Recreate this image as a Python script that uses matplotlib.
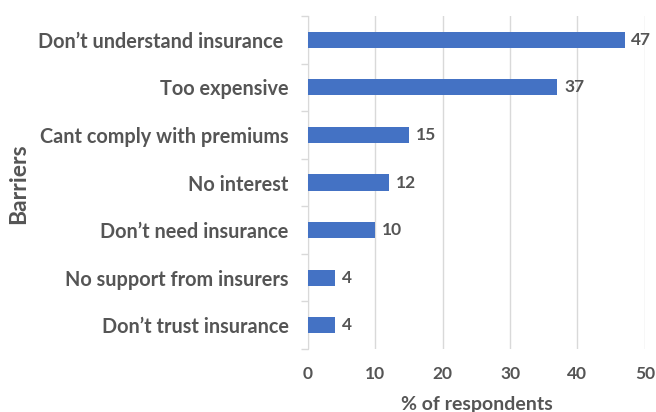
import matplotlib.pyplot as plt
import numpy as np

barriers = ['Don’t understand insurance ', 'Too expensive', 'Cant comply with premiums',
            'No interest', 'Don’t need insurance', 'No support from insurers',
            'Don’t trust insurance']
percent = [47, 37, 15, 12, 10, 4, 4]
x_ticks = [0, 10, 20, 30, 40, 50]

plt.rcParams['font.family'] = ['Lato', 'DejaVu Sans']
plt.rcParams['font.weight'] = 'bold'
text_color = '#555555'
bar_color = '#4472C4'

fig = plt.figure(figsize=(6.56, 4.12), dpi=100)
ax = fig.add_axes([0.4695, 0.153, 0.5135, 0.808])

y = np.arange(len(barriers))
ax.barh(y, percent, height=0.34, color=bar_color, zorder=3)
for yi, v in zip(y, percent):
    ax.text(v + 1.0, yi, str(v), va='center', ha='left', fontsize=12.5,
            color=text_color, fontweight='bold')

ax.set_ylim(len(barriers) - 0.5, -0.5)
ax.set_xlim(0, 50)
ax.set_xticks(x_ticks)
ax.set_yticks(y)
ax.set_yticklabels(barriers)
ax.set_yticks(np.arange(len(barriers) + 1) - 0.5, minor=True)
ax.tick_params(axis='y', which='major', length=0, pad=14, labelsize=14.3, labelcolor=text_color)
ax.tick_params(axis='y', which='minor', length=5, color='#d9d9d9', width=1)
ax.tick_params(axis='x', length=0, pad=12, labelsize=12.5, labelcolor=text_color)

ax.grid(axis='x', color='#d9d9d9', linewidth=1, zorder=0)
for s in ['top', 'right', 'bottom']:
    ax.spines[s].set_visible(False)
ax.spines['left'].set_color('#d9d9d9')

ax.set_xlabel('% of respondents', fontsize=14, color=text_color, fontweight='bold', labelpad=10)
fig.text(0.028, 0.553, 'Barriers', rotation=90, va='center', ha='center',
         fontsize=16.5, color=text_color, fontweight='bold')

fig.savefig('out.png', dpi=100)
